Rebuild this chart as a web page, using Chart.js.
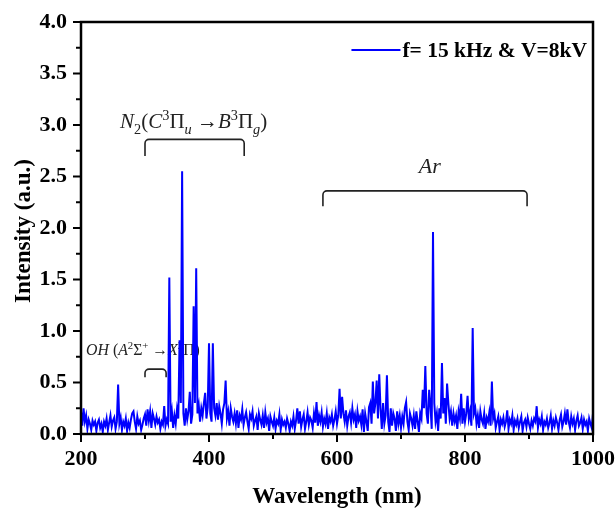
<!DOCTYPE html>
<html>
<head>
<meta charset="utf-8">
<script src="https://cdn.jsdelivr.net/npm/chart.js@4.4.1/dist/chart.umd.min.js"></script>
<style>
  html,body{margin:0;padding:0;background:#fff;}
  #wrap{width:616px;height:509px;position:relative;}
</style>
</head>
<body>
<div id="wrap"><canvas id="c"></canvas></div>
<script>
// ---- data ----
const wavelengthStart = 200;   // nm
const wavelengthStep = 2;      // nm
// intensity (a.u.) every 2 nm from 200 to 1000 nm
const intensity = [
  0.22,0.08,0.25,0.12,0.18,0.05,0.14,0.10,0.04,0.13, // 200-218
  0.09,0.12,0.03,0.11,0.14,0.06,0.10,0.02,0.12,0.08, // 220-238
  0.15,0.04,0.11,0.18,0.07,0.13,0.16,0.05,0.12,0.48, // 240-258
  0.10,0.16,0.04,0.12,0.08,0.15,0.03,0.11,0.06,0.14, // 260-278
  0.20,0.22,0.12,0.05,0.17,0.10,0.13,0.04,0.09,0.15, // 280-298
  0.19,0.08,0.24,0.13,0.22,0.06,0.20,0.15,0.09,0.17, // 300-318
  0.11,0.14,0.05,0.12,0.09,0.27,0.08,0.14,0.10,1.52, // 320-338
  0.12,0.22,0.06,0.18,0.10,0.24,0.15,0.91,0.30,2.55, // 340-358
  0.20,0.08,0.25,0.14,0.22,0.41,0.10,0.19,1.24,0.30, // 360-378
  1.61,0.20,0.28,0.12,0.25,0.18,0.30,0.40,0.15,0.26, // 380-398
  0.88,0.20,0.12,0.88,0.25,0.18,0.30,0.14,0.27,0.20, // 400-418
  0.10,0.24,0.30,0.52,0.15,0.22,0.08,0.25,0.17,0.12, // 420-438
  0.20,0.10,0.23,0.06,0.18,0.14,0.24,0.09,0.16,0.21, // 440-458
  0.12,0.05,0.19,0.15,0.22,0.08,0.13,0.17,0.04,0.20, // 460-478
  0.14,0.09,0.18,0.06,0.21,0.11,0.15,0.03,0.17,0.12, // 480-498
  0.08,0.16,0.05,0.13,0.10,0.19,0.04,0.14,0.09,0.12, // 500-518
  0.06,0.15,0.10,0.03,0.12,0.08,0.17,0.05,0.13,0.25, // 520-538
  0.10,0.22,0.07,0.14,0.19,0.05,0.12,0.21,0.09,0.16, // 540-558
  0.13,0.06,0.20,0.11,0.31,0.08,0.18,0.12,0.21,0.07, // 560-578
  0.15,0.10,0.20,0.05,0.16,0.12,0.19,0.08,0.14,0.22, // 580-598
  0.10,0.18,0.44,0.15,0.36,0.20,0.12,0.23,0.08,0.17, // 600-618
  0.21,0.11,0.25,0.14,0.19,0.06,0.22,0.13,0.17,0.09, // 620-638
  0.24,0.02,0.20,0.12,0.03,0.26,0.30,0.10,0.51,0.20, // 640-658
  0.30,0.52,0.15,0.58,0.25,0.05,0.30,0.10,0.18,0.57, // 660-678
  0.12,0.02,0.25,0.08,0.20,0.15,0.03,0.22,0.10,0.18, // 680-698
  0.06,0.17,0.10,0.25,0.31,0.12,0.04,0.20,0.15,0.08, // 700-718
  0.18,0.05,0.22,0.12,0.02,0.20,0.15,0.43,0.25,0.66, // 720-738
  0.20,0.10,0.43,0.28,0.05,1.96,0.30,0.12,0.20,0.03, // 740-758
  0.25,0.15,0.69,0.20,0.35,0.10,0.49,0.30,0.15,0.22, // 760-778
  0.08,0.20,0.12,0.18,0.05,0.22,0.15,0.39,0.10,0.25, // 780-798
  0.12,0.20,0.37,0.15,0.22,0.08,1.03,0.20,0.25,0.10, // 800-818
  0.18,0.06,0.22,0.14,0.10,0.20,0.05,0.16,0.12,0.21, // 820-838
  0.08,0.51,0.15,0.20,0.06,0.12,0.17,0.04,0.14,0.10, // 840-858
  0.16,0.07,0.12,0.23,0.05,0.14,0.10,0.18,0.04,0.13, // 860-878
  0.09,0.15,0.06,0.12,0.17,0.03,0.11,0.14,0.07,0.16, // 880-898
  0.10,0.05,0.13,0.08,0.15,0.12,0.27,0.06,0.14,0.10, // 900-918
  0.17,0.04,0.12,0.09,0.15,0.06,0.11,0.18,0.05,0.13, // 920-938
  0.08,0.16,0.11,0.04,0.14,0.19,0.07,0.12,0.20,0.09, // 940-958
  0.24,0.12,0.06,0.17,0.10,0.15,0.04,0.13,0.18,0.08, // 960-978
  0.11,0.16,0.05,0.14,0.09,0.12,0.03,0.15,0.10,0.06, // 980-998
  0.20                                                // 1000
];
const seriesLabel = 'f= 15 kHz & V=8kV';
const xTicks = [200, 400, 600, 800, 1000];
const xMinorTicks = [300, 500, 700, 900];
const yTicks = [0.0, 0.5, 1.0, 1.5, 2.0, 2.5, 3.0, 3.5, 4.0];
const yMinorTicks = [0.25, 0.75, 1.25, 1.75, 2.25, 2.75, 3.25, 3.75];

// annotation brackets (data units): x range, top and bottom of the hooks
const brackets = [
  {x1: 300, x2: 455, yTop: 2.86, yBot: 2.70},
  {x1: 578, x2: 897, yTop: 2.36, yBot: 2.21},
  {x1: 300, x2: 333, yTop: 0.63, yBot: 0.55}
];
// annotation labels (data units)
const labels = [
  {x: 376, y: 2.97, align: 'center', size: 21, parts: [
    ['N','i'],['2','sub'],['(','n'],['C','i'],['3','sup'],['\u03A0','n'],['u','isub'],
    [' \u2192','n'],['B','i'],['3','sup'],['\u03A0','n'],['g','isub'],[')','n']]},
  {x: 745, y: 2.53, align: 'center', size: 22, parts: [['Ar','i']]},
  {x: 208, y: 0.77, align: 'left', size: 15.8, parts: [
    ['OH','i'],[' (','n'],['A','i'],['2','sup'],['\u03A3','n'],['+','sup'],
    [' \u2192','n'],['X','i'],['2','sup'],['\u03A0','n'],[')','n']]}
];

const points = intensity.map((v, i) => ({x: wavelengthStart + i * wavelengthStep, y: v}));

const SERIF = '"Liberation Serif", "Times New Roman", serif';

function segFont(kind, size){
  const small = (kind === 'sub' || kind === 'sup' || kind === 'isub');
  const s = small ? size * 0.68 : size;
  const it = (kind === 'i' || kind === 'isub') ? 'italic ' : '';
  return it + s + 'px ' + SERIF;
}
function segOffset(kind, size){
  if (kind === 'sub' || kind === 'isub') return size * 0.28;
  if (kind === 'sup') return -size * 0.38;
  return 0;
}

const annoPlugin = {
  id: 'anno',
  beforeDatasetsDraw(chart){
    const {ctx, scales:{x, y}} = chart;
    ctx.save();
    ctx.strokeStyle = '#222';
    ctx.lineWidth = 1.6;
    brackets.forEach(b => {
      const x1 = x.getPixelForValue(b.x1), x2 = x.getPixelForValue(b.x2);
      const yt = y.getPixelForValue(b.yTop), yb = y.getPixelForValue(b.yBot);
      const r = Math.min(4, (yb - yt) / 2);
      ctx.beginPath();
      ctx.moveTo(x1, yb);
      ctx.lineTo(x1, yt + r);
      ctx.arcTo(x1, yt, x1 + r, yt, r);
      ctx.lineTo(x2 - r, yt);
      ctx.arcTo(x2, yt, x2, yt + r, r);
      ctx.lineTo(x2, yb);
      ctx.stroke();
    });
    ctx.fillStyle = '#222';
    ctx.textBaseline = 'alphabetic';
    ctx.textAlign = 'left';
    labels.forEach(l => {
      let w = 0;
      l.parts.forEach(p => { ctx.font = segFont(p[1], l.size); w += ctx.measureText(p[0]).width; });
      let px = x.getPixelForValue(l.x);
      const py = y.getPixelForValue(l.y);
      if (l.align === 'center') px -= w / 2;
      l.parts.forEach(p => {
        ctx.font = segFont(p[1], l.size);
        ctx.fillText(p[0], px, py + segOffset(p[1], l.size));
        px += ctx.measureText(p[0]).width;
      });
    });
    ctx.restore();
  },
  afterDraw(chart){
    const {ctx, chartArea:a, scales:{x, y}} = chart;
    ctx.save();
    // frame
    ctx.strokeStyle = '#000';
    ctx.lineWidth = 2.5;
    ctx.strokeRect(a.left, a.top, a.right - a.left, a.bottom - a.top);
    // ticks
    ctx.lineWidth = 2;
    ctx.beginPath();
    xTicks.forEach(v => { const p = x.getPixelForValue(v); ctx.moveTo(p, a.bottom); ctx.lineTo(p, a.bottom + 8); });
    xMinorTicks.forEach(v => { const p = x.getPixelForValue(v); ctx.moveTo(p, a.bottom); ctx.lineTo(p, a.bottom + 5); });
    yTicks.forEach(v => { const p = y.getPixelForValue(v); ctx.moveTo(a.left, p); ctx.lineTo(a.left - 8, p); });
    yMinorTicks.forEach(v => { const p = y.getPixelForValue(v); ctx.moveTo(a.left, p); ctx.lineTo(a.left - 5, p); });
    ctx.stroke();
    // axis titles
    ctx.fillStyle = '#000';
    ctx.font = 'bold 23px ' + SERIF;
    ctx.textAlign = 'center';
    ctx.textBaseline = 'alphabetic';
    ctx.fillText('Wavelength (nm)', (a.left + a.right) / 2, 503);
    ctx.save();
    ctx.translate(30, (a.top + a.bottom) / 2 + 3);
    ctx.rotate(-Math.PI / 2);
    ctx.fillText('Intensity (a.u.)', 0, 0);
    ctx.restore();
    // legend
    ctx.font = 'bold 21.5px ' + SERIF;
    const label = chart.data.datasets[0].label;
    const tw = ctx.measureText(label).width;
    const tx = a.right - 6 - tw;
    const ly = a.top + 28;
    ctx.strokeStyle = '#0000ff';
    ctx.lineWidth = 2;
    ctx.beginPath(); ctx.moveTo(tx - 51, ly); ctx.lineTo(tx - 2, ly); ctx.stroke();
    ctx.textAlign = 'left';
    ctx.fillText(label, tx, ly + 7);
    ctx.restore();
  }
};

new Chart(document.getElementById('c'), {
  type: 'line',
  data: {
    datasets: [{
      label: seriesLabel,
      data: points,
      borderColor: '#0000ff',
      borderWidth: 2,
      pointRadius: 0,
      tension: 0,
      fill: false
    }]
  },
  options: {
    responsive: true,
    maintainAspectRatio: false,
    animation: false,
    devicePixelRatio: 1,
    layout: {padding: {top: 22, right: 23, left: 0, bottom: 0}},
    plugins: {legend: {display: false}, tooltip: {enabled: false}},
    scales: {
      x: {
        type: 'linear', min: 200, max: 1000,
        afterFit: s => { s.height = 75; s.paddingLeft = 0; s.paddingRight = 0; },
        afterBuildTicks: s => { s.ticks = xTicks.map(v => ({value: v})); },
        grid: {display: false, drawTicks: false},
        border: {display: false},
        ticks: {color: '#000', padding: 12, maxRotation: 0, font: {family: SERIF, size: 22, weight: 'bold'},
          callback: v => String(v)}
      },
      y: {
        type: 'linear', min: 0, max: 4,
        afterFit: s => { s.width = 81; s.paddingTop = 0; s.paddingBottom = 0; },
        afterBuildTicks: s => { s.ticks = yTicks.map(v => ({value: v})); },
        grid: {display: false, drawTicks: false},
        border: {display: false},
        ticks: {color: '#000', padding: 14, font: {family: SERIF, size: 22, weight: 'bold'},
          callback: v => Number(v).toFixed(1)}
      }
    }
  },
  plugins: [annoPlugin]
});
</script>
</body>
</html>
